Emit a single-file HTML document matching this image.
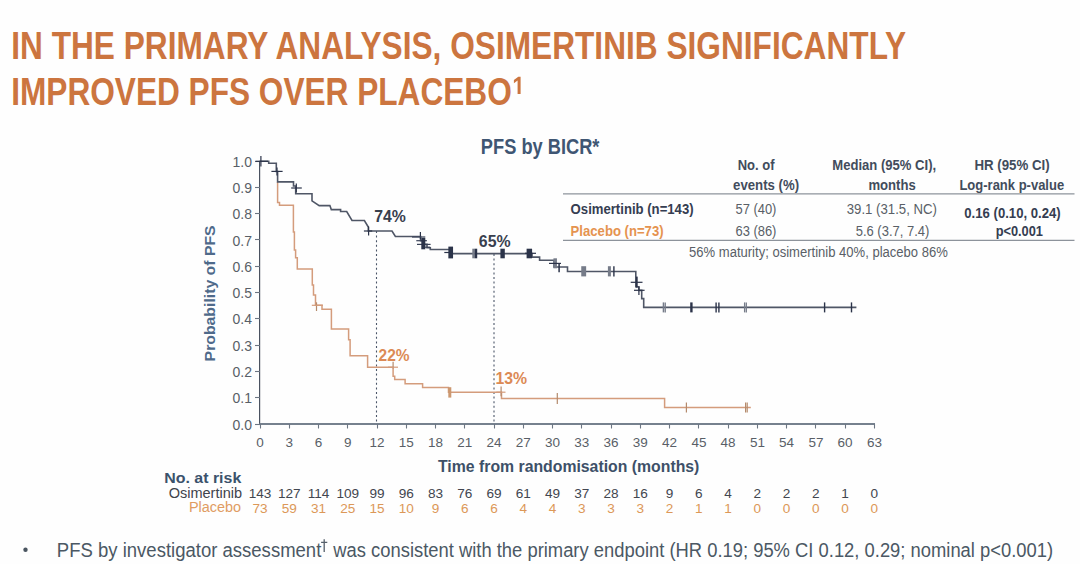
<!DOCTYPE html>
<html><head><meta charset="utf-8"><style>
html,body{margin:0;padding:0;background:#fff;overflow:hidden;}
svg{display:block;font-family:"Liberation Sans",sans-serif;}
</style></head><body>
<svg width="1080" height="564" viewBox="0 0 1080 564">
<rect width="1080" height="564" fill="#fefefe"/>
<text x="11.20" y="59.4" font-size="39.5" fill="#cc753f" font-weight="bold" text-anchor="start" textLength="894.98" lengthAdjust="spacingAndGlyphs" >IN THE PRIMARY ANALYSIS, OSIMERTINIB SIGNIFICANTLY</text>
<text x="11.20" y="105.4" font-size="39.5" fill="#cc753f" font-weight="bold" text-anchor="start" textLength="500.61" lengthAdjust="spacingAndGlyphs" >IMPROVED PFS OVER PLACEBO</text>
<text x="480.85" y="153.7" font-size="21.5" fill="#3f5673" font-weight="bold" text-anchor="start" textLength="118.56" lengthAdjust="spacingAndGlyphs" >PFS by BICR*</text>
<text x="737.73" y="170.4" font-size="15" fill="#424c5c" font-weight="bold" text-anchor="start" textLength="36.83" lengthAdjust="spacingAndGlyphs" >No. of</text>
<text x="733.12" y="189.7" font-size="15" fill="#424c5c" font-weight="bold" text-anchor="start" textLength="65.99" lengthAdjust="spacingAndGlyphs" >events (%)</text>
<text x="832.33" y="170.4" font-size="15" fill="#424c5c" font-weight="bold" text-anchor="start" textLength="103.81" lengthAdjust="spacingAndGlyphs" >Median (95% CI),</text>
<text x="868.43" y="189.7" font-size="15" fill="#424c5c" font-weight="bold" text-anchor="start" textLength="47.32" lengthAdjust="spacingAndGlyphs" >months</text>
<text x="974.42" y="170.4" font-size="15" fill="#424c5c" font-weight="bold" text-anchor="start" textLength="75.18" lengthAdjust="spacingAndGlyphs" >HR (95% CI)</text>
<text x="959.43" y="189.7" font-size="15" fill="#424c5c" font-weight="bold" text-anchor="start" textLength="104.74" lengthAdjust="spacingAndGlyphs" >Log-rank p-value</text>
<text x="570.61" y="213.8" font-size="14.7" fill="#353d51" font-weight="bold" text-anchor="start" textLength="122.97" lengthAdjust="spacingAndGlyphs" >Osimertinib (n=143)</text>
<text x="570.61" y="235.8" font-size="14.7" fill="#e5934f" font-weight="bold" text-anchor="start" textLength="92.96" lengthAdjust="spacingAndGlyphs" >Placebo (n=73)</text>
<text x="735.48" y="214.2" font-size="14" fill="#595f67" font-weight="normal" text-anchor="start" textLength="40.96" lengthAdjust="spacingAndGlyphs" >57 (40)</text>
<text x="735.48" y="236.0" font-size="14" fill="#595f67" font-weight="normal" text-anchor="start" textLength="40.96" lengthAdjust="spacingAndGlyphs" >63 (86)</text>
<text x="846.76" y="214.2" font-size="14" fill="#595f67" font-weight="normal" text-anchor="start" textLength="90.22" lengthAdjust="spacingAndGlyphs" >39.1 (31.5, NC)</text>
<text x="855.67" y="236.0" font-size="14" fill="#595f67" font-weight="normal" text-anchor="start" textLength="73.69" lengthAdjust="spacingAndGlyphs" >5.6 (3.7, 7.4)</text>
<text x="964.31" y="217.6" font-size="14.7" fill="#353d51" font-weight="bold" text-anchor="start" textLength="96.41" lengthAdjust="spacingAndGlyphs" >0.16 (0.10, 0.24)</text>
<text x="995.63" y="236.0" font-size="14.7" fill="#353d51" font-weight="bold" text-anchor="start" textLength="47.34" lengthAdjust="spacingAndGlyphs" >p&lt;0.001</text>
<text x="689.07" y="256.6" font-size="14" fill="#595f67" font-weight="normal" text-anchor="start" textLength="258.79" lengthAdjust="spacingAndGlyphs" >56% maturity; osimertinib 40%, placebo 86%</text>
<text x="438.00" y="472.2" font-size="17" fill="#3d5068" font-weight="bold" text-anchor="start" textLength="261.35" lengthAdjust="spacingAndGlyphs" >Time from randomisation (months)</text>
<text x="164.27" y="482.5" font-size="15.5" fill="#3b526c" font-weight="bold" text-anchor="start" textLength="76.98" lengthAdjust="spacingAndGlyphs" >No. at risk</text>
<text x="168.65" y="497.6" font-size="13.8" fill="#3f434c" font-weight="normal" text-anchor="start" textLength="73.48" lengthAdjust="spacingAndGlyphs" >Osimertinib</text>
<text x="188.95" y="511.9" font-size="13.8" fill="#e09c62" font-weight="normal" text-anchor="start" textLength="52.20" lengthAdjust="spacingAndGlyphs" >Placebo</text>
<text x="56.80" y="556.5" font-size="19.5" fill="#4b5864" font-weight="normal" text-anchor="start" textLength="264.52" lengthAdjust="spacingAndGlyphs" >PFS by investigator assessment</text>
<text x="333.30" y="556.5" font-size="19.5" fill="#4b5864" font-weight="normal" text-anchor="start" textLength="719.79" lengthAdjust="spacingAndGlyphs" >was consistent with the primary endpoint (HR 0.19; 95% CI 0.12, 0.29; nominal p&lt;0.001)</text>
<text x="374.23" y="222.0" font-size="16.3" fill="#39404e" font-weight="bold" text-anchor="start" textLength="31.65" lengthAdjust="spacingAndGlyphs" >74%</text>
<text x="478.83" y="247.2" font-size="16.3" fill="#39404e" font-weight="bold" text-anchor="start" textLength="31.75" lengthAdjust="spacingAndGlyphs" >65%</text>
<text x="378.60" y="360.6" font-size="16.3" fill="#dc8a55" font-weight="bold" text-anchor="start" textLength="30.96" lengthAdjust="spacingAndGlyphs" >22%</text>
<text x="495.53" y="384.1" font-size="16.3" fill="#dc8a55" font-weight="bold" text-anchor="start" textLength="31.65" lengthAdjust="spacingAndGlyphs" >13%</text>
<path d="M517.6,94.1 V80.6 L513.9,83.2 V79.9 L518.3,76.7 H520.6 V94.1 Z" fill="#cc753f"/>
<path d="M324.2,539.3 V552 M321.1,542.4 H327.3" stroke="#56606b" stroke-width="1.3" fill="none"/>
<line x1="563" y1="193.8" x2="1074.5" y2="193.8" stroke="#8d939b" stroke-width="1.3"/>
<line x1="563" y1="240.3" x2="1074.5" y2="240.3" stroke="#8d939b" stroke-width="1.3"/>
<text transform="translate(215.2,293.4) rotate(-90)" font-size="15" fill="#4f6a8a" font-weight="bold" text-anchor="middle" textLength="136" lengthAdjust="spacingAndGlyphs">Probability of PFS</text>
<line x1="259.6" y1="161.0" x2="259.6" y2="424.6" stroke="#4a5260" stroke-width="1.2"/>
<line x1="259.4" y1="424.0" x2="875.0" y2="424.0" stroke="#76818e" stroke-width="1.8"/>
<line x1="255" y1="424.5" x2="260" y2="424.5" stroke="#6c7683" stroke-width="1.1"/>
<text x="252" y="429.6" font-size="14" fill="#595f67" font-weight="normal" text-anchor="end" >0.0</text>
<line x1="255" y1="397.5" x2="260" y2="397.5" stroke="#6c7683" stroke-width="1.1"/>
<text x="252" y="403.3" font-size="14" fill="#595f67" font-weight="normal" text-anchor="end" >0.1</text>
<line x1="255" y1="371.5" x2="260" y2="371.5" stroke="#6c7683" stroke-width="1.1"/>
<text x="252" y="377.0" font-size="14" fill="#595f67" font-weight="normal" text-anchor="end" >0.2</text>
<line x1="255" y1="345.5" x2="260" y2="345.5" stroke="#6c7683" stroke-width="1.1"/>
<text x="252" y="350.7" font-size="14" fill="#595f67" font-weight="normal" text-anchor="end" >0.3</text>
<line x1="255" y1="318.5" x2="260" y2="318.5" stroke="#6c7683" stroke-width="1.1"/>
<text x="252" y="324.4" font-size="14" fill="#595f67" font-weight="normal" text-anchor="end" >0.4</text>
<line x1="255" y1="292.5" x2="260" y2="292.5" stroke="#6c7683" stroke-width="1.1"/>
<text x="252" y="298.1" font-size="14" fill="#595f67" font-weight="normal" text-anchor="end" >0.5</text>
<line x1="255" y1="266.5" x2="260" y2="266.5" stroke="#6c7683" stroke-width="1.1"/>
<text x="252" y="271.8" font-size="14" fill="#595f67" font-weight="normal" text-anchor="end" >0.6</text>
<line x1="255" y1="239.5" x2="260" y2="239.5" stroke="#6c7683" stroke-width="1.1"/>
<text x="252" y="245.5" font-size="14" fill="#595f67" font-weight="normal" text-anchor="end" >0.7</text>
<line x1="255" y1="213.5" x2="260" y2="213.5" stroke="#6c7683" stroke-width="1.1"/>
<text x="252" y="219.2" font-size="14" fill="#595f67" font-weight="normal" text-anchor="end" >0.8</text>
<line x1="255" y1="187.5" x2="260" y2="187.5" stroke="#6c7683" stroke-width="1.1"/>
<text x="252" y="192.9" font-size="14" fill="#595f67" font-weight="normal" text-anchor="end" >0.9</text>
<line x1="255" y1="161.5" x2="260" y2="161.5" stroke="#6c7683" stroke-width="1.1"/>
<text x="252" y="166.6" font-size="14" fill="#595f67" font-weight="normal" text-anchor="end" >1.0</text>
<line x1="260.5" y1="424.0" x2="260.5" y2="428.5" stroke="#6c7683" stroke-width="1.1"/>
<text x="260.0" y="446.6" font-size="13.5" fill="#595f67" font-weight="normal" text-anchor="middle" >0</text>
<line x1="289.5" y1="424.0" x2="289.5" y2="428.5" stroke="#6c7683" stroke-width="1.1"/>
<text x="289.3" y="446.6" font-size="13.5" fill="#595f67" font-weight="normal" text-anchor="middle" >3</text>
<line x1="318.5" y1="424.0" x2="318.5" y2="428.5" stroke="#6c7683" stroke-width="1.1"/>
<text x="318.5" y="446.6" font-size="13.5" fill="#595f67" font-weight="normal" text-anchor="middle" >6</text>
<line x1="347.5" y1="424.0" x2="347.5" y2="428.5" stroke="#6c7683" stroke-width="1.1"/>
<text x="347.8" y="446.6" font-size="13.5" fill="#595f67" font-weight="normal" text-anchor="middle" >9</text>
<line x1="377.5" y1="424.0" x2="377.5" y2="428.5" stroke="#6c7683" stroke-width="1.1"/>
<text x="377.0" y="446.6" font-size="13.5" fill="#595f67" font-weight="normal" text-anchor="middle" >12</text>
<line x1="406.5" y1="424.0" x2="406.5" y2="428.5" stroke="#6c7683" stroke-width="1.1"/>
<text x="406.3" y="446.6" font-size="13.5" fill="#595f67" font-weight="normal" text-anchor="middle" >15</text>
<line x1="435.5" y1="424.0" x2="435.5" y2="428.5" stroke="#6c7683" stroke-width="1.1"/>
<text x="435.5" y="446.6" font-size="13.5" fill="#595f67" font-weight="normal" text-anchor="middle" >18</text>
<line x1="464.5" y1="424.0" x2="464.5" y2="428.5" stroke="#6c7683" stroke-width="1.1"/>
<text x="464.8" y="446.6" font-size="13.5" fill="#595f67" font-weight="normal" text-anchor="middle" >21</text>
<line x1="494.5" y1="424.0" x2="494.5" y2="428.5" stroke="#6c7683" stroke-width="1.1"/>
<text x="494.1" y="446.6" font-size="13.5" fill="#595f67" font-weight="normal" text-anchor="middle" >24</text>
<line x1="523.5" y1="424.0" x2="523.5" y2="428.5" stroke="#6c7683" stroke-width="1.1"/>
<text x="523.3" y="446.6" font-size="13.5" fill="#595f67" font-weight="normal" text-anchor="middle" >27</text>
<line x1="552.5" y1="424.0" x2="552.5" y2="428.5" stroke="#6c7683" stroke-width="1.1"/>
<text x="552.6" y="446.6" font-size="13.5" fill="#595f67" font-weight="normal" text-anchor="middle" >30</text>
<line x1="581.5" y1="424.0" x2="581.5" y2="428.5" stroke="#6c7683" stroke-width="1.1"/>
<text x="581.8" y="446.6" font-size="13.5" fill="#595f67" font-weight="normal" text-anchor="middle" >33</text>
<line x1="611.5" y1="424.0" x2="611.5" y2="428.5" stroke="#6c7683" stroke-width="1.1"/>
<text x="611.1" y="446.6" font-size="13.5" fill="#595f67" font-weight="normal" text-anchor="middle" >36</text>
<line x1="640.5" y1="424.0" x2="640.5" y2="428.5" stroke="#6c7683" stroke-width="1.1"/>
<text x="640.3" y="446.6" font-size="13.5" fill="#595f67" font-weight="normal" text-anchor="middle" >39</text>
<line x1="669.5" y1="424.0" x2="669.5" y2="428.5" stroke="#6c7683" stroke-width="1.1"/>
<text x="669.6" y="446.6" font-size="13.5" fill="#595f67" font-weight="normal" text-anchor="middle" >42</text>
<line x1="698.5" y1="424.0" x2="698.5" y2="428.5" stroke="#6c7683" stroke-width="1.1"/>
<text x="698.9" y="446.6" font-size="13.5" fill="#595f67" font-weight="normal" text-anchor="middle" >45</text>
<line x1="728.5" y1="424.0" x2="728.5" y2="428.5" stroke="#6c7683" stroke-width="1.1"/>
<text x="728.1" y="446.6" font-size="13.5" fill="#595f67" font-weight="normal" text-anchor="middle" >48</text>
<line x1="757.5" y1="424.0" x2="757.5" y2="428.5" stroke="#6c7683" stroke-width="1.1"/>
<text x="757.4" y="446.6" font-size="13.5" fill="#595f67" font-weight="normal" text-anchor="middle" >51</text>
<line x1="786.5" y1="424.0" x2="786.5" y2="428.5" stroke="#6c7683" stroke-width="1.1"/>
<text x="786.6" y="446.6" font-size="13.5" fill="#595f67" font-weight="normal" text-anchor="middle" >54</text>
<line x1="815.5" y1="424.0" x2="815.5" y2="428.5" stroke="#6c7683" stroke-width="1.1"/>
<text x="815.9" y="446.6" font-size="13.5" fill="#595f67" font-weight="normal" text-anchor="middle" >57</text>
<line x1="845.5" y1="424.0" x2="845.5" y2="428.5" stroke="#6c7683" stroke-width="1.1"/>
<text x="845.1" y="446.6" font-size="13.5" fill="#595f67" font-weight="normal" text-anchor="middle" >60</text>
<line x1="874.5" y1="424.0" x2="874.5" y2="428.5" stroke="#6c7683" stroke-width="1.1"/>
<text x="874.4" y="446.6" font-size="13.5" fill="#595f67" font-weight="normal" text-anchor="middle" >63</text>
<line x1="376.5" y1="231" x2="376.5" y2="424.0" stroke="#4a5568" stroke-width="1.1" stroke-dasharray="2,2.6"/>
<line x1="494" y1="254" x2="494" y2="424.0" stroke="#4a5568" stroke-width="1.1" stroke-dasharray="2,2.6"/>
<path d="M277.6,181.9 V202.5 H279.5 V205.3 H293.4 V232 H294.4 V250 H295.6 V257.8 H297.3 V269.1 H312.3 V285 H313.5 V295 H315.5 V305.3 H322 V309.3 H331.4 V329.1 H348.6 V339.8 H350.1 V355.8 H367.6 V367.2 H393.1 V376.3 H394.7 V379.5 H405.1 V383.7 H422.6 V387.6 H448.5 V392.2 H501.5 V398.4 H664.6 V407.5 H750.8" fill="none" stroke="#d49c7c" stroke-width="1.5"/>
<line x1="316.5" y1="302.3" x2="316.5" y2="311" stroke="#b48a6c" stroke-width="1.2"/>
<line x1="311.8" y1="305.3" x2="323" y2="305.3" stroke="#d49c7c" stroke-width="1.2"/>
<line x1="393.1" y1="361.8" x2="393.1" y2="368.6" stroke="#b48a6c" stroke-width="1.2"/>
<line x1="388" y1="367.2" x2="398" y2="367.2" stroke="#d49c7c" stroke-width="1.2"/>
<line x1="501.1" y1="386.5" x2="501.1" y2="396.2" stroke="#b48a6c" stroke-width="1.2"/>
<line x1="496.4" y1="392.2" x2="505.5" y2="392.2" stroke="#d49c7c" stroke-width="1.2"/>
<line x1="449.8" y1="387.2" x2="449.8" y2="397.59999999999997" stroke="#cc9870" stroke-width="3"/>
<line x1="557.3" y1="392.9" x2="557.3" y2="403.9" stroke="#b48a6c" stroke-width="1.2"/>
<line x1="686.4" y1="402.5" x2="686.4" y2="412.5" stroke="#b48a6c" stroke-width="1.2"/>
<line x1="745.6" y1="402.5" x2="745.6" y2="412.5" stroke="#b48a6c" stroke-width="1.2"/>
<line x1="747.2" y1="402.5" x2="747.2" y2="412.5" stroke="#b48a6c" stroke-width="1.2"/>
<path d="M259.5,161.3 H268.7 V163.2 H276.3 V171.5 H277.6 V181.9 H293.5 V186 H295.7 V193.8 H312 V200.8 L319.2,205.6 H329.9 L331.3,209.6 H340.6 V211.5 H346.7 L352,220.5 H364.4 L368.3,227 V231 H392 L395.4,236.5 H420.6 V240.6 H424 V244.4 H427 V247.8 H430.3 V249.5 H450 V253.6 H532 V257.1 H539.6 V260.2 H554 V267 H567.5 V271.5 H635.8 V286.8 H638.9 V290.4 H641.7 V298.6 H643.7 V307.4 H856.4" fill="none" stroke="#4f5666" stroke-width="1.6"/>
<line x1="260.9" y1="156.10000000000002" x2="260.9" y2="166.5" stroke="#2b3349" stroke-width="1.2"/>
<line x1="255.5" y1="161.3" x2="268" y2="161.3" stroke="#2b3349" stroke-width="1.2"/>
<line x1="277" y1="167.4" x2="277" y2="175.4" stroke="#2b3349" stroke-width="1.2"/>
<line x1="271.4" y1="171.4" x2="282.6" y2="171.4" stroke="#2b3349" stroke-width="1.2"/>
<line x1="296.3" y1="183.5" x2="296.3" y2="192.5" stroke="#2b3349" stroke-width="1.2"/>
<line x1="291.2" y1="188" x2="301.8" y2="188" stroke="#2b3349" stroke-width="1.2"/>
<line x1="368.6" y1="226.5" x2="368.6" y2="235.5" stroke="#2b3349" stroke-width="1.2"/>
<line x1="363.9" y1="231" x2="372.2" y2="231" stroke="#2b3349" stroke-width="1.2"/>
<line x1="630.7" y1="282.3" x2="642.5" y2="282.3" stroke="#2b3349" stroke-width="1.2"/>
<line x1="634" y1="290.3" x2="644.6" y2="290.3" stroke="#2b3349" stroke-width="1.2"/>
<line x1="420.4" y1="232.0" x2="420.4" y2="239.2" stroke="#2b3349" stroke-width="1.2"/>
<line x1="412" y1="237" x2="425.3" y2="237" stroke="#3a4258" stroke-width="1.2"/>
<line x1="416.3" y1="240.7" x2="426.9" y2="240.7" stroke="#3a4258" stroke-width="1.2"/>
<line x1="417" y1="244.4" x2="430.6" y2="244.4" stroke="#3a4258" stroke-width="1.2"/>
<line x1="422" y1="247.2" x2="430.3" y2="247.2" stroke="#3a4258" stroke-width="1.2"/>
<line x1="423.3" y1="237.9" x2="423.3" y2="249.29999999999998" stroke="#2b3349" stroke-width="4"/>
<line x1="450.7" y1="246.6" x2="450.7" y2="258.4" stroke="#2b3349" stroke-width="4.7"/>
<line x1="444.3" y1="252.5" x2="449.2" y2="252.5" stroke="#2b3349" stroke-width="1.2"/>
<line x1="473.6" y1="248.7" x2="473.6" y2="258.3" stroke="#767c89" stroke-width="2.6"/>
<line x1="476.0" y1="248.7" x2="476.0" y2="258.3" stroke="#2b3349" stroke-width="2.4"/>
<line x1="502.6" y1="248.7" x2="502.6" y2="258.3" stroke="#2b3349" stroke-width="4.4"/>
<line x1="529.35" y1="248.7" x2="529.35" y2="258.3" stroke="#2b3349" stroke-width="5.5"/>
<line x1="525" y1="253.3" x2="536" y2="253.3" stroke="#2b3349" stroke-width="1.2"/>
<line x1="555.2" y1="258.3" x2="555.2" y2="268.3" stroke="#767c89" stroke-width="3.5"/>
<line x1="549" y1="263.4" x2="561" y2="263.4" stroke="#2b3349" stroke-width="1.2"/>
<line x1="559.1" y1="262.90000000000003" x2="559.1" y2="272.3" stroke="#2b3349" stroke-width="1.5"/>
<line x1="583.7" y1="266.2" x2="583.7" y2="276.40000000000003" stroke="#767c89" stroke-width="4.9"/>
<line x1="609.4" y1="266.2" x2="609.4" y2="276.40000000000003" stroke="#767c89" stroke-width="3"/>
<line x1="613.9" y1="266.2" x2="613.9" y2="276.40000000000003" stroke="#2b3349" stroke-width="1.4"/>
<line x1="636.8" y1="276.6" x2="636.8" y2="287.6" stroke="#2b3349" stroke-width="1.8"/>
<line x1="638.9" y1="286.79999999999995" x2="638.9" y2="295.0" stroke="#2b3349" stroke-width="1.2"/>
<line x1="663.4" y1="302.4" x2="663.4" y2="312.4" stroke="#767c89" stroke-width="1.4"/>
<line x1="665.2" y1="302.4" x2="665.2" y2="312.4" stroke="#767c89" stroke-width="1.4"/>
<line x1="691.4" y1="302.4" x2="691.4" y2="312.4" stroke="#2b3349" stroke-width="2.4"/>
<line x1="716.1" y1="302.4" x2="716.1" y2="312.4" stroke="#2b3349" stroke-width="1.4"/>
<line x1="718.9" y1="302.4" x2="718.9" y2="312.4" stroke="#2b3349" stroke-width="1.4"/>
<line x1="744.6" y1="302.4" x2="744.6" y2="312.4" stroke="#767c89" stroke-width="1.3"/>
<line x1="746.3" y1="302.4" x2="746.3" y2="312.4" stroke="#767c89" stroke-width="1.3"/>
<line x1="824.6" y1="302.4" x2="824.6" y2="312.4" stroke="#2b3349" stroke-width="1.4"/>
<line x1="851.5" y1="302.4" x2="851.5" y2="312.4" stroke="#2b3349" stroke-width="1.4"/>
<text x="260.0" y="497.8" font-size="13.6" fill="#42464f" font-weight="normal" text-anchor="middle" >143</text>
<text x="260.0" y="512.9" font-size="13.6" fill="#dc9858" font-weight="normal" text-anchor="middle" >73</text>
<text x="289.3" y="497.8" font-size="13.6" fill="#42464f" font-weight="normal" text-anchor="middle" >127</text>
<text x="289.3" y="512.9" font-size="13.6" fill="#dc9858" font-weight="normal" text-anchor="middle" >59</text>
<text x="318.5" y="497.8" font-size="13.6" fill="#42464f" font-weight="normal" text-anchor="middle" >114</text>
<text x="318.5" y="512.9" font-size="13.6" fill="#dc9858" font-weight="normal" text-anchor="middle" >31</text>
<text x="347.8" y="497.8" font-size="13.6" fill="#42464f" font-weight="normal" text-anchor="middle" >109</text>
<text x="347.8" y="512.9" font-size="13.6" fill="#dc9858" font-weight="normal" text-anchor="middle" >25</text>
<text x="377.0" y="497.8" font-size="13.6" fill="#42464f" font-weight="normal" text-anchor="middle" >99</text>
<text x="377.0" y="512.9" font-size="13.6" fill="#dc9858" font-weight="normal" text-anchor="middle" >15</text>
<text x="406.3" y="497.8" font-size="13.6" fill="#42464f" font-weight="normal" text-anchor="middle" >96</text>
<text x="406.3" y="512.9" font-size="13.6" fill="#dc9858" font-weight="normal" text-anchor="middle" >10</text>
<text x="435.5" y="497.8" font-size="13.6" fill="#42464f" font-weight="normal" text-anchor="middle" >83</text>
<text x="435.5" y="512.9" font-size="13.6" fill="#dc9858" font-weight="normal" text-anchor="middle" >9</text>
<text x="464.8" y="497.8" font-size="13.6" fill="#42464f" font-weight="normal" text-anchor="middle" >76</text>
<text x="464.8" y="512.9" font-size="13.6" fill="#dc9858" font-weight="normal" text-anchor="middle" >6</text>
<text x="494.1" y="497.8" font-size="13.6" fill="#42464f" font-weight="normal" text-anchor="middle" >69</text>
<text x="494.1" y="512.9" font-size="13.6" fill="#dc9858" font-weight="normal" text-anchor="middle" >6</text>
<text x="523.3" y="497.8" font-size="13.6" fill="#42464f" font-weight="normal" text-anchor="middle" >61</text>
<text x="523.3" y="512.9" font-size="13.6" fill="#dc9858" font-weight="normal" text-anchor="middle" >4</text>
<text x="552.6" y="497.8" font-size="13.6" fill="#42464f" font-weight="normal" text-anchor="middle" >49</text>
<text x="552.6" y="512.9" font-size="13.6" fill="#dc9858" font-weight="normal" text-anchor="middle" >4</text>
<text x="581.8" y="497.8" font-size="13.6" fill="#42464f" font-weight="normal" text-anchor="middle" >37</text>
<text x="581.8" y="512.9" font-size="13.6" fill="#dc9858" font-weight="normal" text-anchor="middle" >3</text>
<text x="611.1" y="497.8" font-size="13.6" fill="#42464f" font-weight="normal" text-anchor="middle" >28</text>
<text x="611.1" y="512.9" font-size="13.6" fill="#dc9858" font-weight="normal" text-anchor="middle" >3</text>
<text x="640.3" y="497.8" font-size="13.6" fill="#42464f" font-weight="normal" text-anchor="middle" >16</text>
<text x="640.3" y="512.9" font-size="13.6" fill="#dc9858" font-weight="normal" text-anchor="middle" >3</text>
<text x="669.6" y="497.8" font-size="13.6" fill="#42464f" font-weight="normal" text-anchor="middle" >9</text>
<text x="669.6" y="512.9" font-size="13.6" fill="#dc9858" font-weight="normal" text-anchor="middle" >2</text>
<text x="698.9" y="497.8" font-size="13.6" fill="#42464f" font-weight="normal" text-anchor="middle" >6</text>
<text x="698.9" y="512.9" font-size="13.6" fill="#dc9858" font-weight="normal" text-anchor="middle" >1</text>
<text x="728.1" y="497.8" font-size="13.6" fill="#42464f" font-weight="normal" text-anchor="middle" >4</text>
<text x="728.1" y="512.9" font-size="13.6" fill="#dc9858" font-weight="normal" text-anchor="middle" >1</text>
<text x="757.4" y="497.8" font-size="13.6" fill="#42464f" font-weight="normal" text-anchor="middle" >2</text>
<text x="757.4" y="512.9" font-size="13.6" fill="#dc9858" font-weight="normal" text-anchor="middle" >0</text>
<text x="786.6" y="497.8" font-size="13.6" fill="#42464f" font-weight="normal" text-anchor="middle" >2</text>
<text x="786.6" y="512.9" font-size="13.6" fill="#dc9858" font-weight="normal" text-anchor="middle" >0</text>
<text x="815.9" y="497.8" font-size="13.6" fill="#42464f" font-weight="normal" text-anchor="middle" >2</text>
<text x="815.9" y="512.9" font-size="13.6" fill="#dc9858" font-weight="normal" text-anchor="middle" >0</text>
<text x="845.1" y="497.8" font-size="13.6" fill="#42464f" font-weight="normal" text-anchor="middle" >1</text>
<text x="845.1" y="512.9" font-size="13.6" fill="#dc9858" font-weight="normal" text-anchor="middle" >0</text>
<text x="874.4" y="497.8" font-size="13.6" fill="#42464f" font-weight="normal" text-anchor="middle" >0</text>
<text x="874.4" y="512.9" font-size="13.6" fill="#dc9858" font-weight="normal" text-anchor="middle" >0</text>
<circle cx="25.5" cy="549.7" r="2.2" fill="#4a5560"/>
</svg>
</body></html>
